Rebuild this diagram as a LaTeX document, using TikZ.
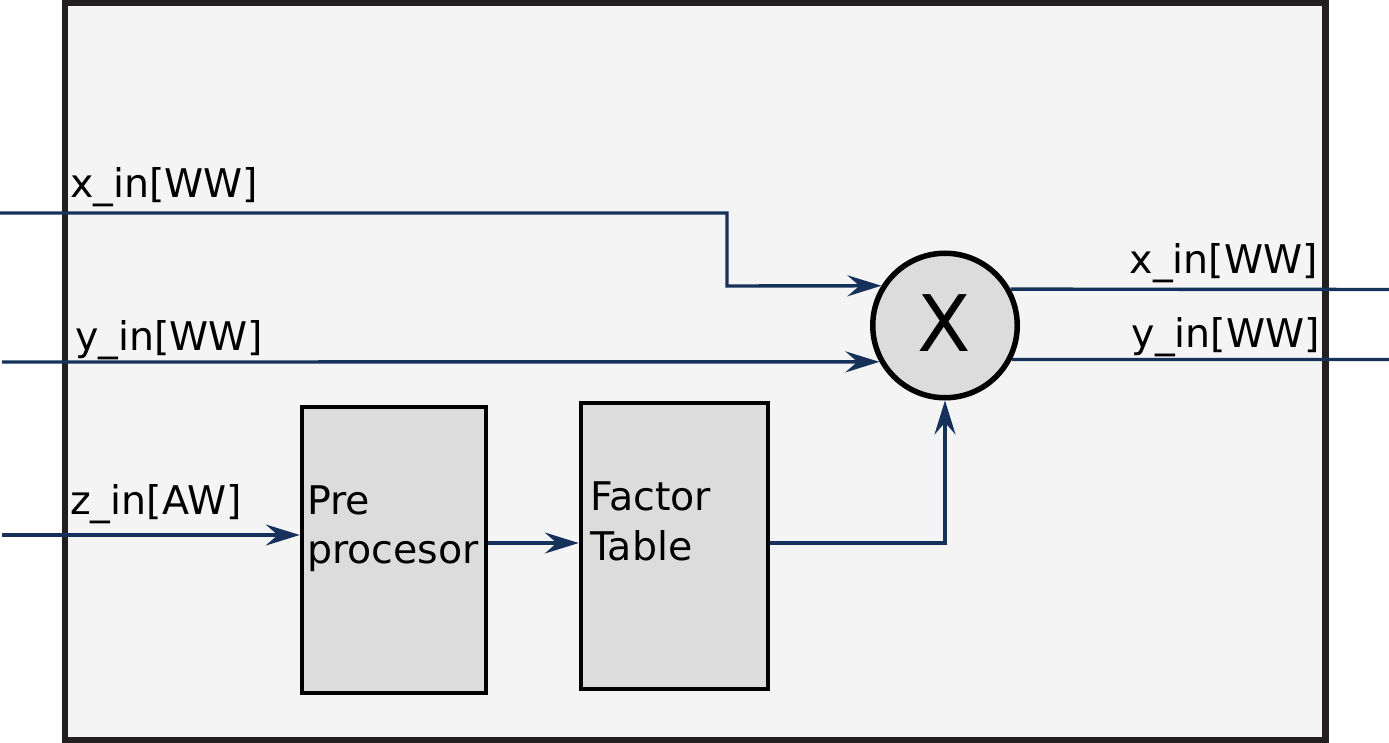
\documentclass[tikz,border=0pt]{standalone}
\usepackage{fontspec}
\setmainfont{DejaVu Sans}
\usetikzlibrary{arrows.meta}
\definecolor{frameedge}{HTML}{231F20}
\definecolor{framefill}{HTML}{F4F4F4}
\definecolor{boxfill}{HTML}{DCDCDC}
\definecolor{wire}{HTML}{16325B}
\tikzset{
  wireline/.style={draw=wire, line width=3.4pt},
  arr/.style={wireline, -{Stealth[length=34pt,width=21pt,inset=12pt]}},
  blockbox/.style={draw=black, fill=boxfill, line width=4.5pt, rectangle, inner sep=0pt},
  lbl/.style={inner sep=0pt, font=\fontsize{39.5}{49}\selectfont},
}
\begin{document}
\begin{tikzpicture}[x=1pt,y=-1pt]
\useasboundingbox (0,0) rectangle (1389,743);
% frame
\node[draw=frameedge, fill=framefill, line width=6.5pt, inner sep=0pt, minimum width=1260.5pt, minimum height=737pt] (frame) at (695.25,371.5) {};
% blocks
\node[blockbox, minimum width=184pt, minimum height=286pt] (pre) at (394,550) {};
\node[blockbox, minimum width=187pt, minimum height=286pt] (fac) at (674.5,546) {};
\node[circle, draw=black, fill=boxfill, line width=5.5pt, minimum size=144.5pt, inner sep=0pt] (circ) at (945,325.5) {};
\node[inner sep=0pt, font=\fontsize{78}{80}\selectfont] (xsym) at (944,323) {X};
% block texts
\node[lbl, anchor=base west] (pretxt1) at (307,514) {Pre};
\node[lbl, anchor=base west] (pretxt2) at (307,563) {procesor};
\node[lbl, anchor=base west] (factxt1) at (590,510) {Factor};
\node[lbl, anchor=base west] (factxt2) at (590,560) {Table};
% labels
\node[lbl, anchor=base west] (xinl) at (70,198) {x\_in[WW]};
\node[lbl, anchor=base west] (yinl) at (75,350) {y\_in[WW]};
\node[lbl, anchor=base west] (zinl) at (70,514) {z\_in[AW]};
\node[lbl, anchor=base east] (xoutl) at (1318,273) {x\_in[WW]};
\node[lbl, anchor=base east] (youtl) at (1320,347) {y\_in[WW]};
% coordinates
\coordinate (xsrc) at (0,213);
\coordinate (xbend) at (727,286);
\coordinate (ysrc) at (2,362);
\coordinate (zsrc) at (2,535);
\coordinate (pf) at (0,543);
\coordinate (xout) at (1389,289.5);
\coordinate (yout) at (1389,359.5);
% connectors
\draw[arr] (xsrc) -| (xbend) -- (circ.148);
\draw[arr] (ysrc) -- (circ.209);
\draw[arr] (zsrc) -- (zsrc -| pre.west);
\draw[arr] (pf -| pre.east) -- (pf -| fac.west);
\draw[arr] (pf -| fac.east) -| (circ.south);
\draw[wireline] (circ.29) -- (xout);
\draw[wireline] (circ.333) -- (yout);
\end{tikzpicture}
\end{document}
